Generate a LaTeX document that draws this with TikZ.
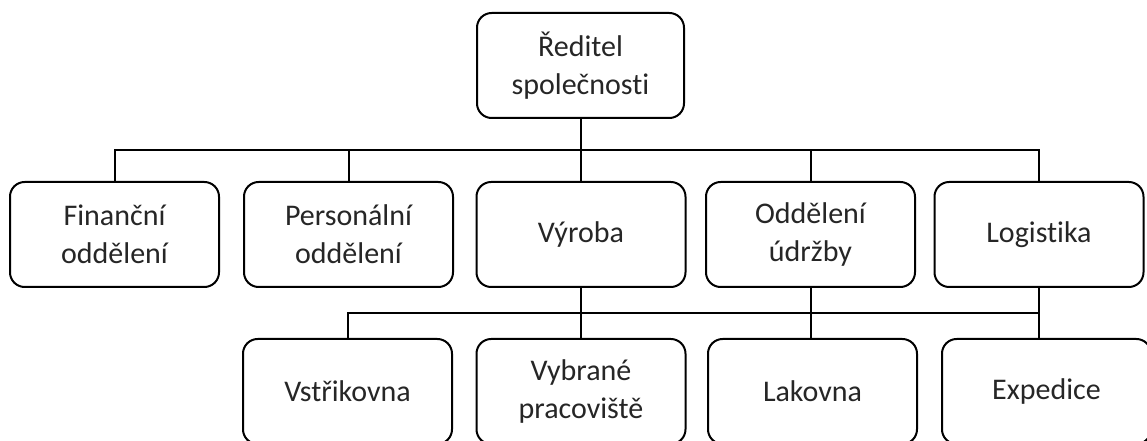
\documentclass[tikz,border=0pt]{standalone}
\usepackage{fontspec}
\setmainfont[Ligatures={NoCommon}]{Carlito}
\begin{document}
\begin{tikzpicture}[x=0.75pt,y=-0.75pt,
  unit/.style={draw=black, line width=1.5pt, rounded corners=11pt,
    minimum width=156.75pt, minimum height=78.75pt, inner sep=0pt,
    align=center, text=black!85,
    font=\fontsize{22.5}{28.5}\selectfont},
  link/.style={line width=1.5pt}]
  \clip (0,0) rectangle (1147,441);
  \fill[white] (0,0) rectangle (1147,441);

  % head of the company
  \node[unit, minimum width=155.25pt] (top) at (580.5,65.5) {Ředitel\\společnosti};

  % departments
  \node[unit] (fin)  at (114.5,234.5) {Finanční\\oddělení};
  \node[unit] (pers) at (348.5,234.5) {Personální\\oddělení};
  \node[unit] (vyr)  at (581,234.5)   {Výroba};
  \node[unit] (odd)  at (810.5,234.5) {Oddělení\\údržby};
  \node[unit] (log)  at (1039,234.5)  {Logistika};

  % workplaces
  \node[unit] (vst) at (347.5,391.5)  {Vstřikovna};
  \node[unit] (vyb) at (581,391.5)    {Vybrané\\pracoviště};
  \node[unit] (lak) at (812.5,391.5)  {Lakovna};
  \node[unit] (exp) at (1046.5,391.5) {Expedice};

  % upper bus
  \coordinate (b1) at (580.5,150);
  \draw[link] (top.south) -- (b1);
  \draw[link] (fin.north) |- (b1) -| (log.north);
  \draw[link] (pers.north) -- (pers.north |- b1);
  \draw[link] (vyr.north) -- (vyr.north |- b1);
  \draw[link] (odd.north) -- (odd.north |- b1);

  % lower bus
  \coordinate (b2) at (581,313);
  \draw[link] (vst.north) |- (b2) -| (log.south);
  \draw[link] (vyr.south) -- (vyb.north);
  \draw[link] (odd.south) -- (odd.south |- lak.north);
  \draw[link] (log.south) -- (log.south |- exp.north);
\end{tikzpicture}
\end{document}
